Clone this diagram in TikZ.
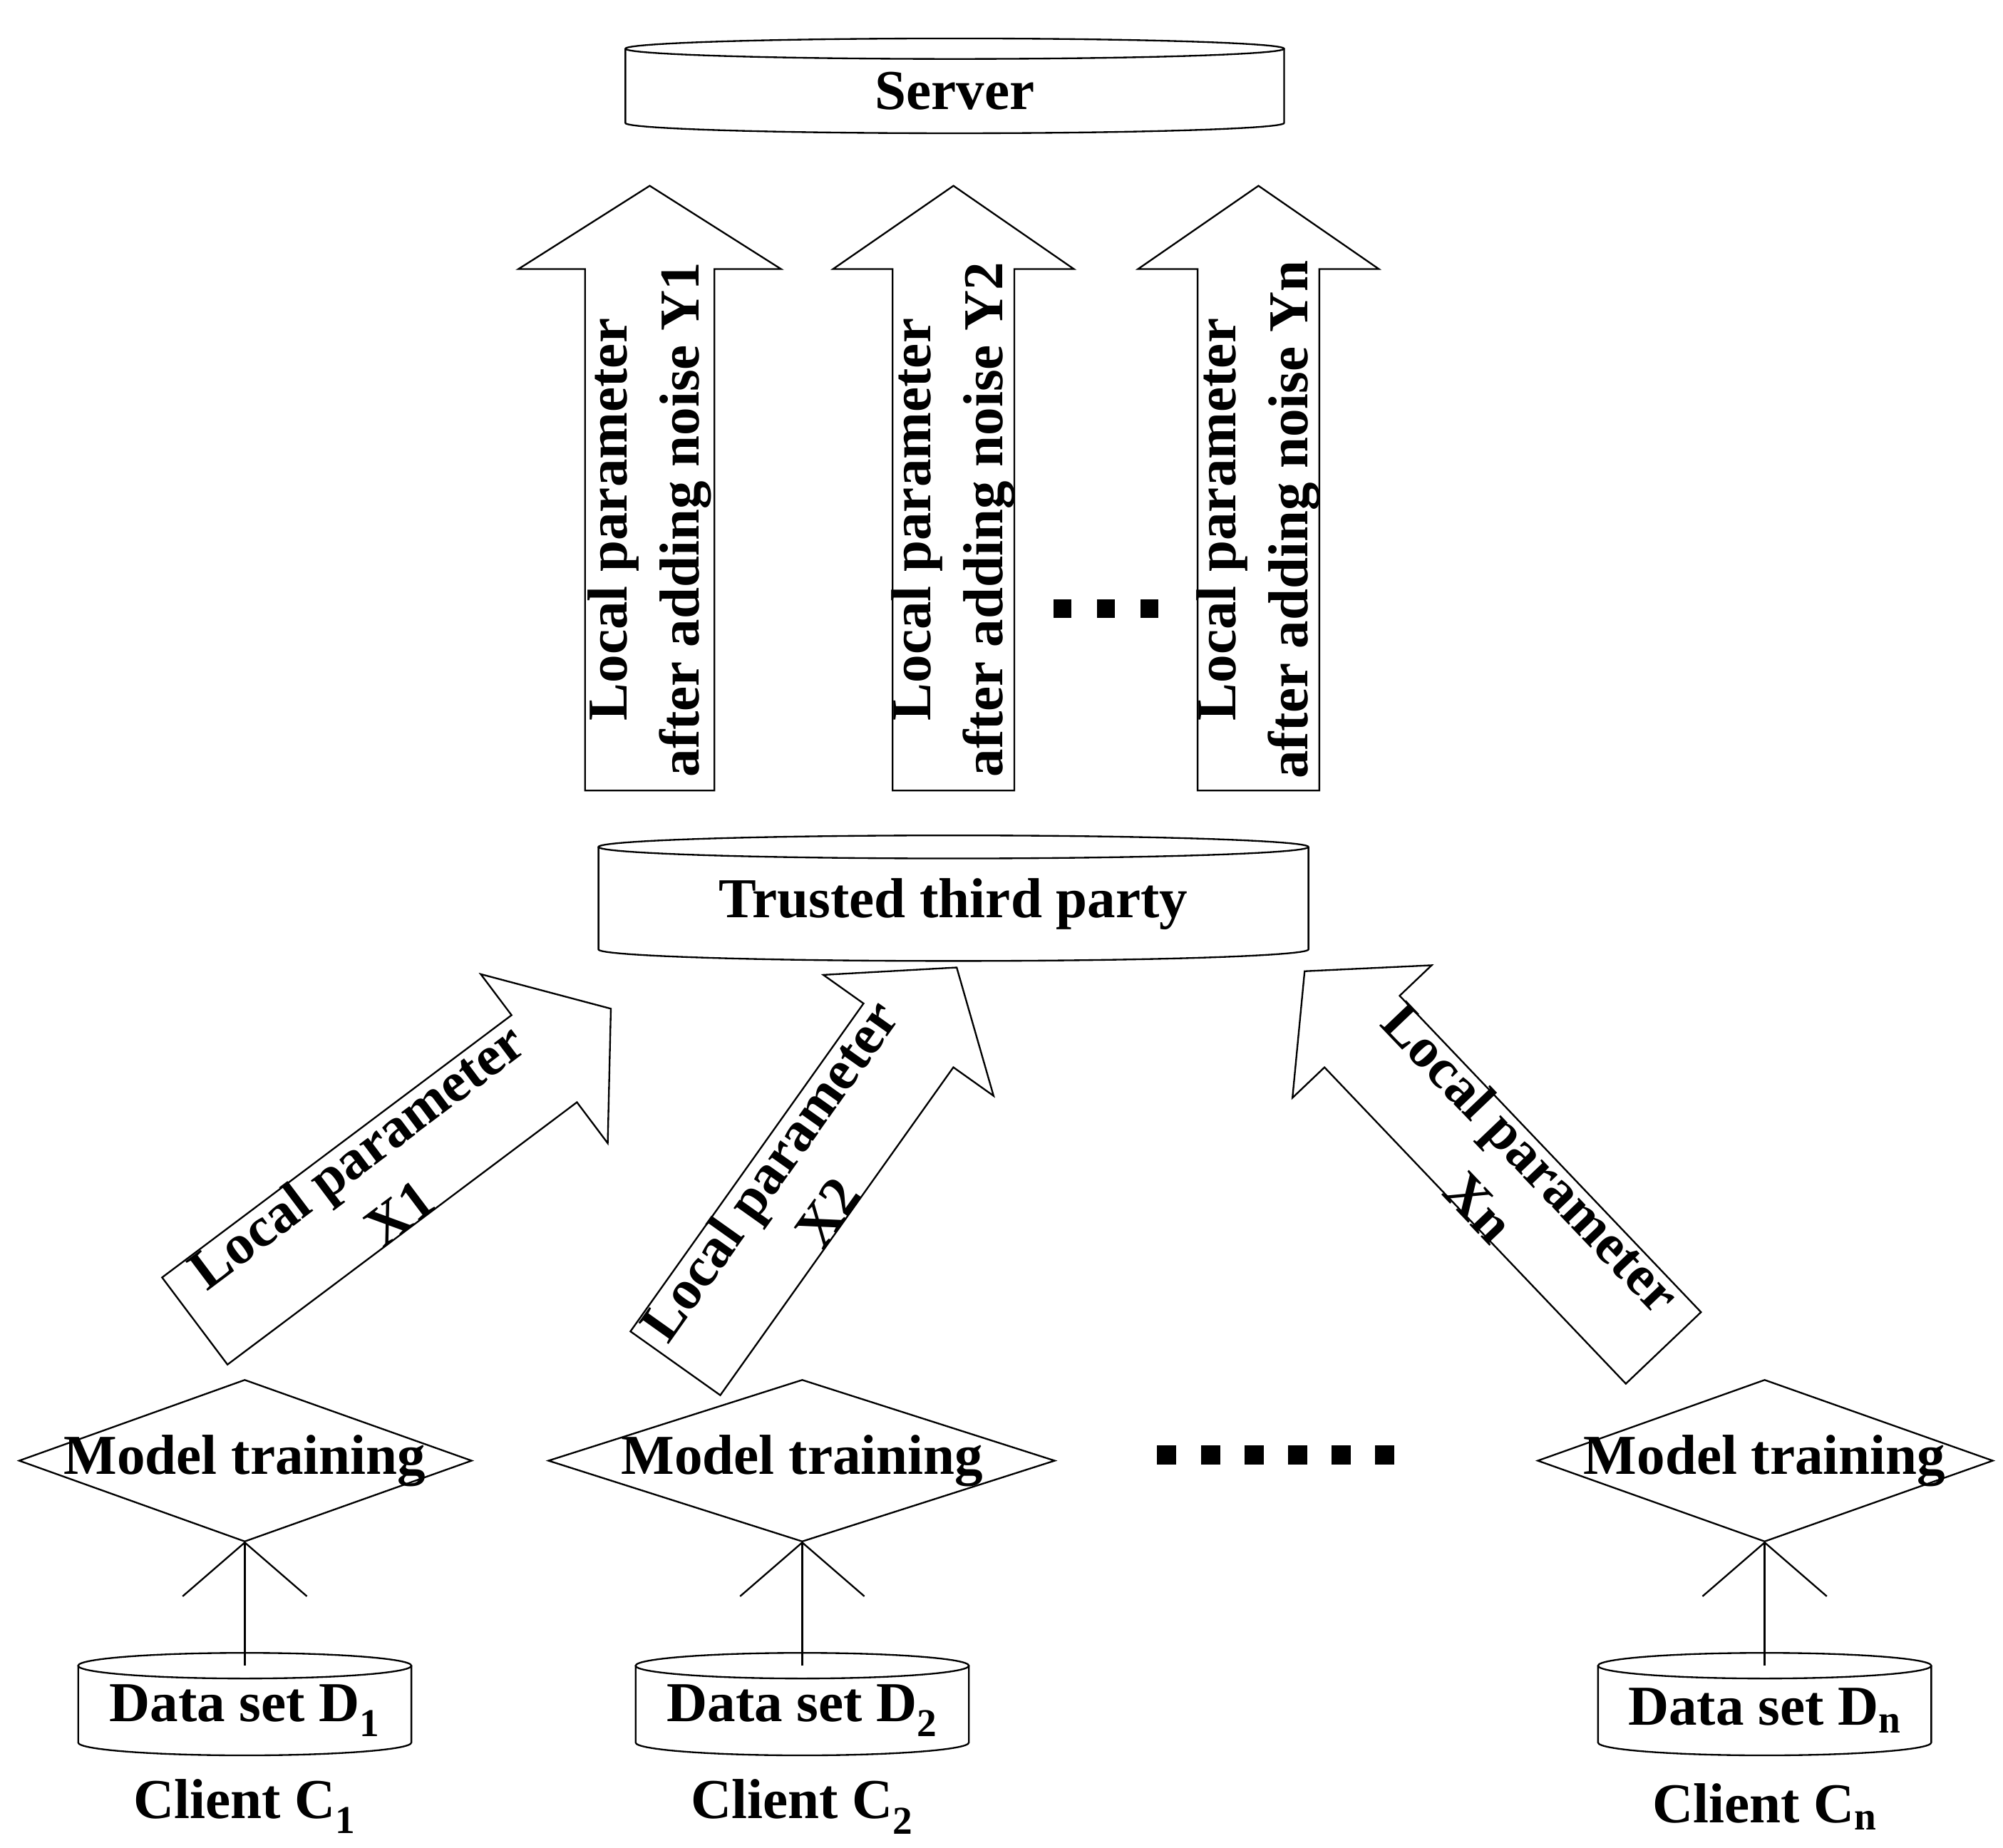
\documentclass[tikz,border=0pt]{standalone}
\usepackage{fontspec}
\setmainfont{Liberation Serif}
\usetikzlibrary{arrows.meta}
\newcommand\mycyl[7]{% name, cx, ytop, ybot, rx, ry, text
  \draw[line width=1.3pt,fill=white] ({#2-#5},{#3-#6}) -- ({#2-#5},{#4+#6})
    arc[start angle=180,end angle=360,x radius=#5,y radius=#6] -- ({#2+#5},{#3-#6});
  \draw[line width=1.3pt] (#2,{#3-#6}) ellipse[x radius=#5,y radius=#6];
  \node[txt] (#1) at (#2,{(#3+#4)/2-#6/2}) {#7};}
\newcommand\bigarrow[9]{% name, tx, ty, angle, L, w, hw, hl, text
  \pgfmathsetmacro\txtrot{#4>90 ? #4-180 : #4}
  \begin{scope}[shift={(#2,#3)},rotate=#4]
  \draw[line width=1.3pt,fill=white] (0,{-#6/2}) -- ({#5-#8},{-#6/2}) -- ({#5-#8},{-#7/2}) -- (#5,0)
   -- ({#5-#8},{#7/2}) -- ({#5-#8},{#6/2}) -- (0,{#6/2}) -- cycle;
  \node[txt,align=center,rotate=\txtrot,inner sep=0pt] (#1) at ({(#5-#8)/2+8},0) {#9};
  \end{scope}}
\begin{document}
\begin{tikzpicture}[x=1pt,y=1pt,
  txt/.style={font=\fontsize{44}{56}\selectfont\bfseries},
  dm/.style={line width=1.3pt},
  conn/.style={line width=1.3pt,-{Straight Barb[length=42pt,width=97pt,line width=1.3pt]}}]
\useasboundingbox (0,0) rectangle (1563,-1442);
% server and TTP
\mycyl{server}{745}{-30}{-104}{257}{8}{Server}
\mycyl{ttp}{744}{-652}{-750}{277}{9}{Trusted third party}
% up arrows
\bigarrow{up1}{507}{-617}{90}{472}{101}{205}{65}{Local parameter\\after adding noise Y1}
\bigarrow{up2}{744}{-617}{90}{472}{95}{188}{65}{Local parameter\\after adding noise Y2}
\bigarrow{up3}{982}{-617}{90}{472}{95}{188}{65}{Local parameter\\after adding noise Yn}
% dots
\foreach \i in {0,1,2} \fill (822+\i*34,-468) rectangle ++(14,-14);
\foreach \i in {0,...,5} \fill (903+\i*34,-1128) rectangle ++(15,-15);
% diagonal arrows
\bigarrow{x1}{152}{-1031}{36.9}{406}{85}{165}{65}{Local parameter\\X1}
\bigarrow{x2}{527}{-1064}{54.6}{379}{86}{163}{65}{Local parameter\\X2}
\bigarrow{xn}{1298}{-1052}{133.6}{406}{81}{150}{65}{Local parameter\\Xn}
% clients
\foreach \n/\cx/\l/\r/\sub in {1/191/15/368/1,2/626/428/823/2,3/1377/1200/1555/n}{
  \draw[dm] (\l,-1140) -- (\cx,-1077) -- (\r,-1140) -- (\cx,-1203) -- cycle;
  \coordinate (db\n) at (\cx,-1203);
  \node[txt] (mt\n) at (\cx,-1140) {Model training};
  \mycyl{ds\n}{\cx}{-1290}{-1370}{130}{10}{Data set D$_{\mathbf{\sub}}$}
  \coordinate (dt\n) at (\cx,-1300);
  \draw[conn] (dt\n) -- (db\n);
  \node[txt] (cl\n) at (\cx,-1410) {Client C$_{\mathbf{\sub}}$};
}
\end{tikzpicture}
\end{document}
